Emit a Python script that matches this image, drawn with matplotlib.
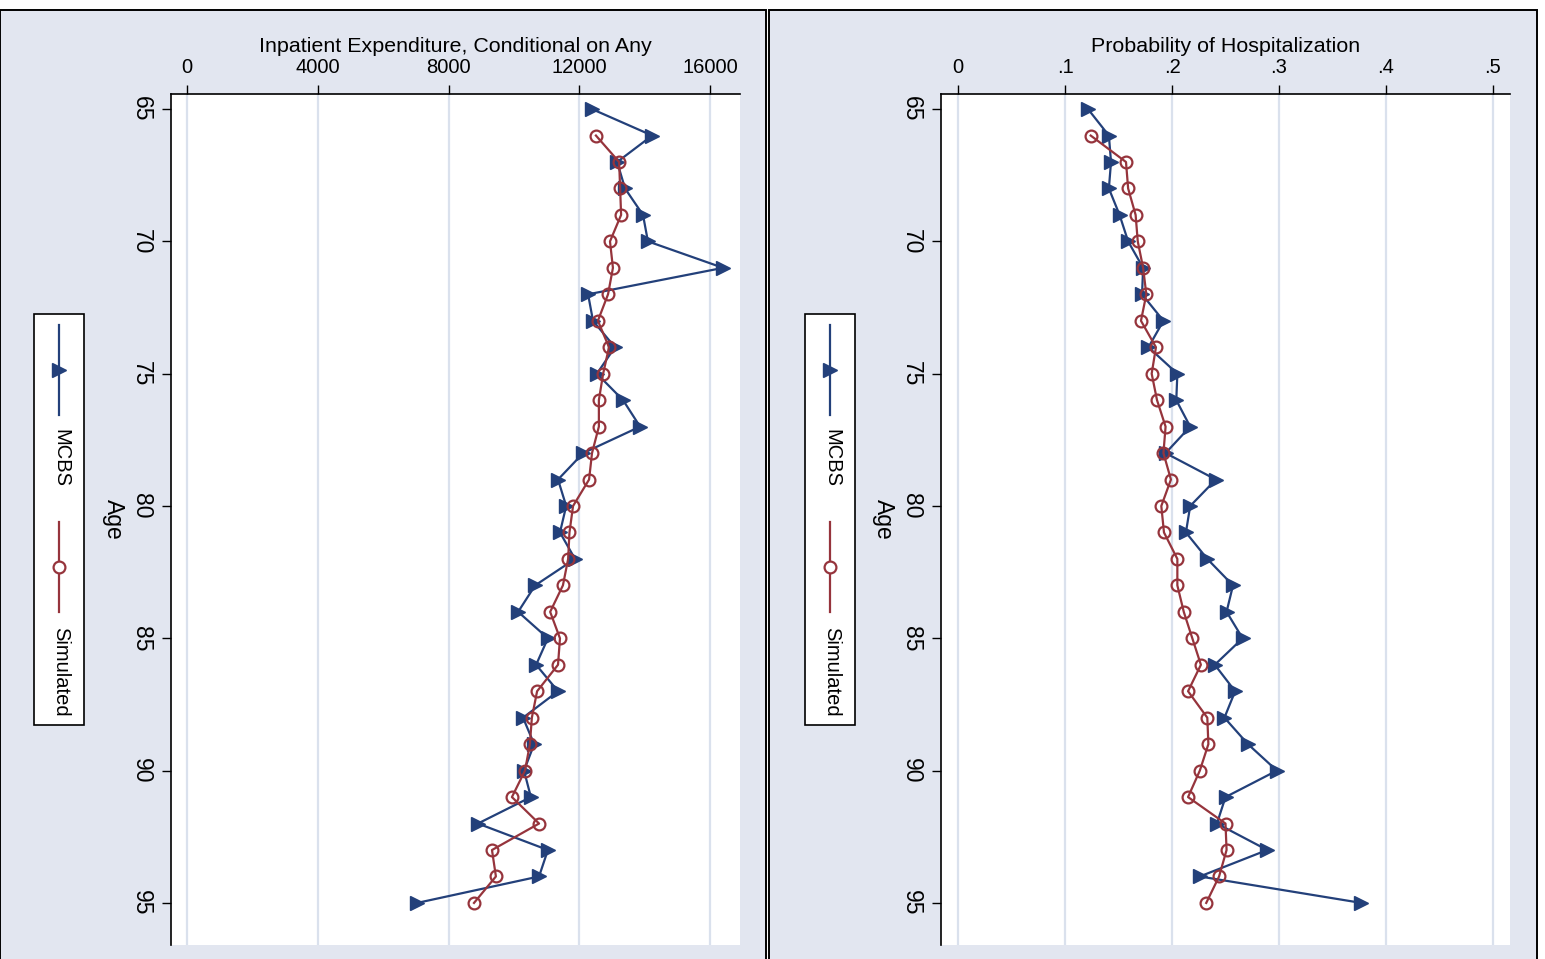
import matplotlib
matplotlib.use('Agg')
import matplotlib.pyplot as plt
from matplotlib.patches import Rectangle
from matplotlib.lines import Line2D

plt.rcParams['font.family'] = ['Liberation Sans', 'DejaVu Sans']

# ages (rows of the rotated chart)
ages = [65, 66, 67, 68, 69, 70, 71, 72, 73, 74, 75, 76, 77, 78, 79, 80,
        81, 82, 83, 84, 85, 86, 87, 88, 89, 90, 91, 92, 93, 94, 95]
sim_ages = ages[1:]

# inpatient expenditure, conditional on any
exp_mcbs = [12390, 14230, 13160, 13400, 13950, 14100, 16400, 12270, 12420, 13090,
            12540, 13340, 13860, 12120, 11350, 11600, 11410, 11870, 10650, 10130,
            11040, 10680, 11350, 10280, 10620, 10310, 10520, 8900, 11040, 10770, 7040]
exp_sim = [12510, 13220, 13250, 13280, 12940, 13030, 12880, 12570, 12910, 12730,
           12600, 12600, 12390, 12300, 11810, 11700, 11660, 11500, 11110, 11410,
           11350, 10710, 10550, 10490, 10340, 9940, 10770, 9330, 9450, 8780]

# probability of hospitalization
hosp_mcbs = [0.1215, 0.141, 0.143, 0.141, 0.151, 0.159, 0.173, 0.172, 0.192, 0.178,
             0.205, 0.204, 0.217, 0.194, 0.241, 0.217, 0.213, 0.233, 0.257, 0.251,
             0.266, 0.240, 0.259, 0.249, 0.271, 0.298, 0.250, 0.242, 0.289, 0.226, 0.377]
hosp_sim = [0.124, 0.157, 0.159, 0.166, 0.168, 0.173, 0.176, 0.171, 0.185, 0.181,
            0.186, 0.194, 0.192, 0.199, 0.190, 0.1925, 0.205, 0.205, 0.211, 0.219,
            0.227, 0.215, 0.233, 0.234, 0.226, 0.215, 0.250, 0.251, 0.244, 0.232]

exp_ticks = [0, 4000, 8000, 12000, 16000]
exp_ticklabels = ['0', '4000', '8000', '12000', '16000']
hosp_ticks = [0, 0.1, 0.2, 0.3, 0.4, 0.5]
hosp_ticklabels = ['0', '.1', '.2', '.3', '.4', '.5']
age_ticks = [65, 70, 75, 80, 85, 90, 95]

navy = '#23407A'
maroon = '#96343C'
bg = '#E2E6F0'
grid_c = '#DAE1ED'

W, H = 1545, 959
fig = plt.figure(figsize=(W / 100, H / 100), dpi=100)
fig.patch.set_facecolor('white')


def fx(px):
    return px / W


def fy(py):
    return 1 - py / H


# panel backgrounds
for x0, x1 in [(0, 766), (769, 1537)]:
    fig.add_artist(Rectangle((fx(x0), fy(970)), fx(x1 - x0), (970 - 10) / H,
                             transform=fig.transFigure, facecolor=bg,
                             edgecolor='black', linewidth=1.4, zorder=0))

panels = [
    dict(left=171, xdata=(exp_mcbs, exp_sim), xlim=(-489, 16917),
         ticks=exp_ticks, labels=exp_ticklabels,
         title='Inpatient Expenditure, Conditional on Any', leg_x=0),
    dict(left=941, xdata=(hosp_mcbs, hosp_sim), xlim=(-0.0159, 0.5159),
         ticks=hosp_ticks, labels=hosp_ticklabels,
         title='Probability of Hospitalization', leg_x=771),
]

for p in panels:
    ax = fig.add_axes([fx(p['left']), fy(945), fx(569), (945 - 94) / H])
    ax.set_facecolor('white')
    ax.plot(p['xdata'][0], ages, color=navy, lw=1.6, marker='>', ms=10,
            mfc=navy, mec=navy, zorder=3)
    ax.plot(p['xdata'][1], sim_ages, color=maroon, lw=1.6, marker='o', ms=8.5,
            mfc='none', mec=maroon, mew=1.6, zorder=4)
    ax.set_xlim(*p['xlim'])
    ax.set_ylim(96.59, 64.43)
    ax.set_xticks(p['ticks'])
    ax.set_xticklabels(p['labels'])
    ax.set_yticks(age_ticks)
    ax.xaxis.tick_top()
    ax.xaxis.set_label_position('top')
    ax.grid(axis='x', color=grid_c, lw=1.6, zorder=0)
    ax.set_axisbelow(True)
    for s in ['right', 'bottom']:
        ax.spines[s].set_visible(False)
    for s in ['top', 'left']:
        ax.spines[s].set_linewidth(1.2)
    ax.tick_params(axis='x', length=6.5, width=1, labelsize=14.5, pad=6)
    ax.tick_params(axis='y', length=6.5, width=1, labelsize=16.5, pad=15)
    plt.setp(ax.get_yticklabels(), rotation=270, va='center', ha='center')
    ax.set_xlabel(p['title'], fontsize=15.4, va='center', ha='center')
    ax.xaxis.set_label_coords(0.5, 1 + 48 / 851)
    ax.set_ylabel('Age', fontsize=16.5, rotation=270, va='center', ha='center')
    ax.yaxis.set_label_coords((113 - 171) / 569, 0.5)

    # rotated legend box
    ox = p['leg_x']
    fig.add_artist(Rectangle((fx(ox + 34), fy(725)), fx(50), (725 - 314) / H,
                             transform=fig.transFigure, facecolor='white',
                             edgecolor='black', linewidth=1.2, zorder=5))
    cx = fx(ox + 59)
    fig.add_artist(Line2D([cx, cx], [fy(325), fy(415)], transform=fig.transFigure,
                          color=navy, lw=1.6, zorder=6))
    fig.add_artist(Line2D([cx], [fy(370)], transform=fig.transFigure,
                          marker='>', ms=10, color=navy, zorder=7))
    fig.text(fx(ox + 61), fy(429), 'MCBS', rotation=270, ha='center', va='top',
             fontsize=14.5, zorder=7)
    fig.add_artist(Line2D([cx, cx], [fy(522), fy(612)], transform=fig.transFigure,
                          color=maroon, lw=1.6, zorder=6))
    fig.add_artist(Line2D([cx], [fy(567)], transform=fig.transFigure,
                          marker='o', ms=8.5, mfc='white', mec=maroon, mew=1.6,
                          zorder=7))
    fig.text(fx(ox + 61), fy(627), 'Simulated', rotation=270, ha='center', va='top',
             fontsize=14.5, zorder=7)

fig.savefig('out.png', dpi=100, facecolor=fig.get_facecolor())
